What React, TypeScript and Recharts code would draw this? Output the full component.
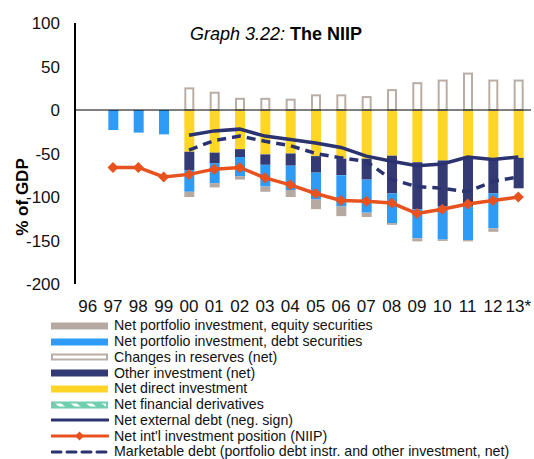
import React from 'react';
import {
  ComposedChart,
  Bar,
  Line,
  XAxis,
  YAxis,
  ReferenceLine,
  Label,
} from 'recharts';

const years = ['96', '97', '98', '99', '00', '01', '02', '03', '04', '05', '06', '07', '08', '09', '10', '11', '12', '13*'];

// stacked bars, % of GDP
const directInv = [0, 0, 0, 0, -48, -49, -45, -51, -50, -53, -56, -56, -52.5, -60, -58, -54, -55.5, -55];
const otherInv = [0, 0, 0, 0, -21, -12, -9, -12, -14, -19, -19, -24, -43.5, -54, -53, -57, -40.5, -35];
const portDebt = [0, -23, -26, -28, -25, -23, -22, -25, -28, -31, -36, -38, -34, -33.5, -38, -38.5, -40, 0];
const portEquity = [0, 0, 0, 0, -6, -5, -4, -6, -8, -11, -11, -5, -2, -3.5, -1.5, -1.5, -4, 0];
const derivatives = [0, 0, 0, 0, 0, 0, 0, 0, 0, 0, 0, 0, 0, 0, 0, 0, 0, 0];
const reserves = [0, 0, 0, 0, 26, 21, 14, 14, 13, 18, 18, 16, 24, 32, 35, 43, 35, 35];

// lines
const extDebt = [null, null, null, null, -29, -24, -22, -30, -34, -38, -43, -53, -59, -64, -62, -54, -57, -54];
const niip = [null, -66, -66, -77, -74, -68, -66, -78, -86, -96, -104, -105, -107, -119, -114, -108, -104, -100];
const marketDebt = [null, null, null, null, -46, -35, -30, -36, -41, -50, -55, -59, -80, -88, -90, -94, -82, -77];

const yTicks = [100, 50, 0, -50, -100, -150, -200];

const C = {
  equity: '#b5a9a2',
  debt: '#2e9bf7',
  reserves: '#b9ada6',
  other: '#343b74',
  direct: '#ffd526',
  deriv: '#6fcfae',
  extDebt: '#2b3270',
  niip: '#e8521e',
};

const data = years.map((year, i) => ({
  year,
  direct: directInv[i],
  other: otherInv[i],
  debt: portDebt[i],
  equity: portEquity[i],
  deriv: derivatives[i],
  reserves: reserves[i],
  extDebt: extDebt[i],
  niip: niip[i],
  marketDebt: marketDebt[i],
}));

const font = '"Liberation Sans", Arial, sans-serif';

function OutlineBar(props: any) {
  const { x, y, width, height } = props;
  if (!height || Math.abs(height) < 0.5) return null;
  const top = Math.min(y, y + height);
  const h = Math.abs(height);
  return (
    <rect
      x={x + 1}
      y={top + 1}
      width={width - 2}
      height={Math.max(h - 1, 0)}
      fill="#fff"
      stroke={C.reserves}
      strokeWidth={2}
    />
  );
}

function Diamond(props: any) {
  const { cx, cy, index } = props;
  if (cx == null || cy == null || props.value == null) return <g key={index} />;
  const r = 5.5;
  return (
    <polygon
      key={index}
      points={`${cx},${cy - r} ${cx + r},${cy} ${cx},${cy + r} ${cx - r},${cy}`}
      fill={C.niip}
    />
  );
}

const legendItems = [
  { label: 'Net portfolio investment, equity securities', kind: 'bar', color: C.equity },
  { label: 'Net portfolio investment, debt securities', kind: 'bar', color: C.debt },
  { label: 'Changes in reserves (net)', kind: 'outline', color: C.reserves },
  { label: 'Other investment (net)', kind: 'bar', color: C.other },
  { label: 'Net direct investment', kind: 'bar', color: C.direct },
  { label: 'Net financial derivatives', kind: 'hatch', color: C.deriv },
  { label: 'Net external debt (neg. sign)', kind: 'line', color: C.extDebt },
  { label: "Net int'l investment position (NIIP)", kind: 'marker', color: C.niip },
  { label: 'Marketable debt (portfolio debt instr. and other investment, net)', kind: 'dash', color: C.extDebt },
];

function Swatch({ kind, color }: { kind: string; color: string }) {
  return (
    <svg width={58} height={10} style={{ display: 'block' }}>
      <defs>
        <pattern id="hatch" width="10" height="10" patternUnits="userSpaceOnUse" patternTransform="rotate(-50)">
          <rect width="10" height="10" fill={C.deriv} />
          <rect width="4" height="10" fill="#fff" />
        </pattern>
      </defs>
      {kind === 'bar' && <rect x={0} y={1.5} width={57} height={7} fill={color} />}
      {kind === 'outline' && <rect x={1} y={2.5} width={55} height={5} fill="#fff" stroke={color} strokeWidth={2} />}
      {kind === 'hatch' && <rect x={1} y={2.5} width={55} height={5} fill="url(#hatch)" stroke={color} strokeWidth={2} />}
      {kind === 'line' && <line x1={0} y1={5} x2={57} y2={5} stroke={color} strokeWidth={3} strokeLinecap="round" />}
      {kind === 'marker' && (
        <g>
          <line x1={0} y1={5} x2={57} y2={5} stroke={color} strokeWidth={3} strokeLinecap="round" />
          <polygon points="28.5,0.5 33,5 28.5,9.5 24,5" fill={color} />
        </g>
      )}
      {kind === 'dash' && <line x1={1} y1={5} x2={57} y2={5} stroke={color} strokeWidth={3} strokeDasharray="9 6" strokeLinecap="round" />}
    </svg>
  );
}

export default function App() {
  return (
    <div style={{ position: 'absolute', left: 0, top: 0, width: 534, height: 459, background: '#fff', fontFamily: font }}>
      <div style={{ position: 'absolute', left: 0, width: 552, top: 24, textAlign: 'center', fontSize: 18, color: '#000', zIndex: 2 }}>
        <i>Graph 3.22:</i> <b>The NIIP</b>
      </div>
      <ComposedChart
        width={534}
        height={320}
        data={data}
        stackOffset="sign"
        barSize={10}
        margin={{ top: 23, right: 3, left: 0, bottom: 6 }}
      >
        <XAxis
          dataKey="year"
          axisLine={false}
          tickLine={false}
          tickSize={0}
          tickMargin={16}
          height={30}
          interval={0}
          tick={{ fontSize: 17, fill: '#111', fontFamily: font }}
        />
        <YAxis
          domain={[-200, 100]}
          ticks={yTicks}
          width={75}
          tickLine={false}
          tickSize={0}
          tickMargin={15}
          axisLine={{ stroke: '#000', strokeWidth: 2 }}
          tick={{ fontSize: 17, fill: '#111', fontFamily: font }}
        >
          <Label
            content={() => (
              <text
                x={22}
                y={197}
                transform="rotate(-90 22 197)"
                textAnchor="middle"
                dominantBaseline="central"
                fontSize={17}
                fontWeight="bold"
                fontFamily={font}
                fill="#000"
              >
                % of GDP
              </text>
            )}
          />
        </YAxis>
        <Bar dataKey="direct" stackId="a" fill={C.direct} isAnimationActive={false} />
        <Bar dataKey="other" stackId="a" fill={C.other} isAnimationActive={false} />
        <Bar dataKey="debt" stackId="a" fill={C.debt} isAnimationActive={false} />
        <Bar dataKey="equity" stackId="a" fill={C.equity} isAnimationActive={false} />
        <Bar dataKey="deriv" stackId="a" fill={C.deriv} isAnimationActive={false} />
        <Bar dataKey="reserves" stackId="a" shape={OutlineBar} isAnimationActive={false} />
        <ReferenceLine y={0} stroke="#000" strokeWidth={1} />
        <Line
          dataKey="extDebt"
          type="linear"
          stroke={C.extDebt}
          strokeWidth={3.5}
          dot={false}
          isAnimationActive={false}
        />
        <Line
          dataKey="marketDebt"
          type="linear"
          stroke={C.extDebt}
          strokeWidth={3.5}
          strokeDasharray="9 6"
          dot={false}
          isAnimationActive={false}
        />
        <Line
          dataKey="niip"
          type="linear"
          stroke={C.niip}
          strokeWidth={3.5}
          dot={Diamond}
          activeDot={false}
          isAnimationActive={false}
        />
      </ComposedChart>
      <div style={{ position: 'absolute', left: 51, top: 318 }}>
        {legendItems.map((it) => (
          <div key={it.label} style={{ display: 'flex', alignItems: 'center', height: 15.75 }}>
            <Swatch kind={it.kind} color={it.color} />
            <span style={{ marginLeft: 5, fontSize: 14.2, color: '#111', whiteSpace: 'nowrap', lineHeight: '15px' }}>{it.label}</span>
          </div>
        ))}
      </div>
    </div>
  );
}
